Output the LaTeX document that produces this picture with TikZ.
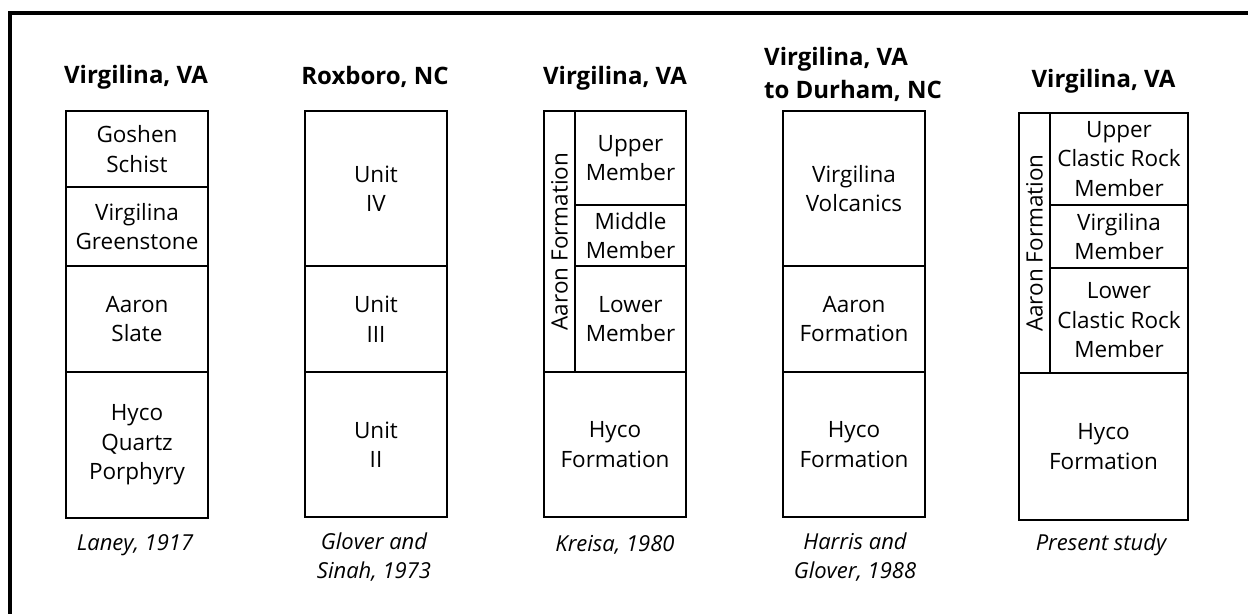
\documentclass[tikz,border=0pt]{standalone}
\usepackage{fontspec}
\setmainfont{Open Sans}
\begin{document}
\begin{tikzpicture}[x=1pt,y=-1pt,
  seg/.style={draw, line width=1.8pt, rectangle, inner sep=0pt, align=center,
    font=\fontsize{22.5}{29.5}\selectfont},
  ttl/.style={font=\fontsize{24}{33}\selectfont\bfseries, inner sep=0pt},
  refnote/.style={font=\fontsize{22}{29}\selectfont\itshape, inner sep=0pt, align=center},
  frameline/.style={line width=4pt, line join=miter}]
\useasboundingbox (0,0) rectangle (1248,614);
\fill[white] (0,0) rectangle (1248,614);
\coordinate (fr) at (1248,12.5);
\coordinate (fc) at (10,12.5);
\coordinate (fb) at (10,614);
\draw[frameline] (fr) -- (fc) -- (fb);

% Column 1
\node[ttl, anchor=base] (t1) at (136,83) {Virgilina, VA};
\node[seg, minimum width=142, minimum height=76] (c1a) at (137,149) {Goshen\\Schist};
\node[seg, minimum width=142, minimum height=79] (c1b) at (137,226.5) {Virgilina\\Greenstone};
\node[seg, minimum width=142, minimum height=106] (c1c) at (137,319) {Aaron\\Slate};
\node[seg, minimum width=142, minimum height=146] (c1d) at (137,445) {Hyco\\Quartz\\Porphyry};
\node[refnote, anchor=base] (r1) at (135,550) {Laney, 1917};

% Column 2
\node[ttl, anchor=base] (t2) at (375,84) {Roxboro, NC};
\node[seg, minimum width=142, minimum height=155] (c2a) at (376,188.5) {Unit\\IV};
\node[seg, minimum width=142, minimum height=106] (c2b) at (376,319) {Unit\\III};
\node[seg, minimum width=142, minimum height=145] (c2c) at (376,444.5) {Unit\\II};
\node[refnote, anchor=north] (r2) at (374,533) {Glover and\\Sinah, 1973};

% Column 3
\node[ttl, anchor=base] (t3) at (615,84) {Virgilina, VA};
\node[seg, rotate=90, minimum width=261, minimum height=31] (c3f) at (559.5,241.5) {Aaron Formation};
\node[seg, minimum width=111, minimum height=94] (c3a) at (630.5,158) {Upper\\Member};
\node[seg, minimum width=111, minimum height=61] (c3b) at (630.5,235.5) {Middle\\Member};
\node[seg, minimum width=111, minimum height=106] (c3c) at (630.5,319) {Lower\\Member};
\node[seg, minimum width=142, minimum height=145] (c3d) at (615,444.5) {Hyco\\Formation};
\node[refnote, anchor=base] (r3) at (615,551) {Kreisa, 1980};

% Column 4
\node[ttl, align=left, anchor=north west] (t4) at (764,47) {Virgilina, VA\\to Durham, NC};
\node[seg, minimum width=142, minimum height=155] (c4a) at (854,188.5) {Virgilina\\Volcanics};
\node[seg, minimum width=142, minimum height=106] (c4b) at (854,319) {Aaron\\Formation};
\node[seg, minimum width=142, minimum height=145] (c4c) at (854,444.5) {Hyco\\Formation};
\node[refnote, anchor=north] (r4) at (855,533) {Harris and\\Glover, 1988};

% Column 5
\node[ttl, anchor=base] (t5) at (1103.5,87) {Virgilina, VA};
\node[seg, rotate=90, minimum width=260, minimum height=31] (c5f) at (1034.5,243) {Aaron Formation};
\node[seg, minimum width=138, minimum height=92] (c5a) at (1119,159) {Upper\\Clastic Rock\\Member};
\node[seg, minimum width=138, minimum height=63] (c5b) at (1119,236.5) {Virgilina\\Member};
\node[seg, minimum width=138, minimum height=105] (c5c) at (1119,320.5) {Lower\\Clastic Rock\\Member};
\node[seg, minimum width=169, minimum height=147] (c5d) at (1103.5,446.5) {Hyco\\Formation};
\node[refnote, anchor=base] (r5) at (1101,550) {Present study};
\end{tikzpicture}
\end{document}
